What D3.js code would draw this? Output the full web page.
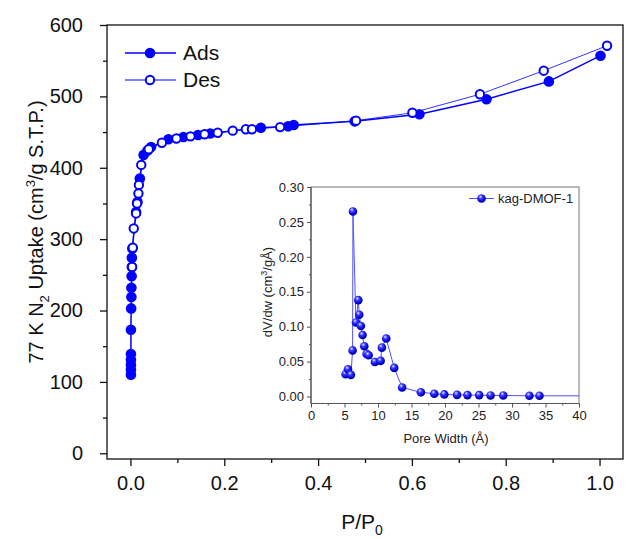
<!DOCTYPE html>
<html>
<head>
<meta charset="utf-8">
<script src="https://d3js.org/d3.v7.min.js"></script>
<style>
  body { margin: 0; background: #fff; }
  text { font-family: Arial, "Liberation Sans", sans-serif; }
</style>
</head>
<body>
<div id="chart"></div>
<script>
// isotherm, adsorption branch (P/P0, uptake cm3/g)
var adsP = [0.001, 0.001, 0.001, 0.001, 0.001, 0.001, 0.0015, 0.002, 0.002, 0.0025, 0.003, 0.003, 0.004,
            0.012, 0.015, 0.020, 0.028, 0.036, 0.044, 0.081, 0.113, 0.144, 0.170, 0.278, 0.336, 0.348,
            0.478, 0.616, 0.759, 0.892, 1.002];
var adsV = [110, 117, 124, 131, 139, 173, 203, 219, 232, 248, 261, 274, 287,
            338, 352, 385, 418, 424, 429, 440, 443, 446, 448, 456, 458, 460,
            465, 475, 496, 521, 557];
// desorption branch
var desP = [0.0035, 0.005, 0.007, 0.012, 0.014, 0.017, 0.018, 0.023, 0.039, 0.067, 0.098, 0.128, 0.158,
            0.186, 0.218, 0.246, 0.259, 0.319, 0.481, 0.601, 0.745, 0.881, 1.016];
var desV = [261, 288, 315, 336, 350, 364, 376, 404, 426, 435, 441, 444, 447,
            449, 452, 454, 454, 457, 466, 477, 503, 536, 571];

// inset pore size distribution
var poreW = [5.17, 5.52, 5.96, 6.21, 6.26, 6.71, 7.06, 7.2, 7.45, 7.7, 7.95, 8.3, 8.6, 9.54, 10.39, 10.58,
             11.23, 12.42, 13.6, 16.4, 18.4, 19.9, 21.8, 23.35, 25.1, 26.8, 28.7, 32.6, 34.1];
var poreDV = [0.032, 0.039, 0.031, 0.066, 0.265, 0.106, 0.138, 0.117, 0.101, 0.088, 0.072, 0.061, 0.059,
              0.0495, 0.051, 0.070, 0.083, 0.041, 0.013, 0.006, 0.004, 0.003, 0.0024, 0.002, 0.002,
              0.0015, 0.0015, 0.001, 0.001];
var poreTailW = [34.1, 42];   // line continues past the axis end
var poreTailDV = [0.001, 0.001];

var xTicks = [0, 0.2, 0.4, 0.6, 0.8, 1.0];
var yTicks = [0, 100, 200, 300, 400, 500, 600];
var inXTicks = [0, 5, 10, 15, 20, 25, 30, 35, 40];
var inYTicks = [0, 0.05, 0.10, 0.15, 0.20, 0.25, 0.30];

var width = 643, height = 539;
var blue = "#0000ff";

var svg = d3.select("#chart").append("svg")
    .attr("width", width)
    .attr("height", height);

var x = d3.scaleLinear().domain([-0.05, 1.05]).range([107, 623]);
var y = d3.scaleLinear().domain([-8, 600]).range([459, 25]);

// frame
svg.append("rect")
    .attr("x", 107).attr("y", 25)
    .attr("width", 516).attr("height", 434)
    .attr("fill", "none").attr("stroke", "#111").attr("stroke-width", 1.3);

// axes
var xAxis = svg.append("g").attr("transform", "translate(0,459)")
    .call(d3.axisBottom(x).tickValues(xTicks).tickSize(7).tickPadding(10).tickFormat(d3.format(".1f")));
svg.append("g").attr("transform", "translate(0,459)")
    .call(d3.axisBottom(x).tickValues(d3.range(0.1, 1.0, 0.2)).tickSize(4).tickFormat(""));
var yAxis = svg.append("g").attr("transform", "translate(107,0)")
    .call(d3.axisLeft(y).tickValues(yTicks).tickSize(7).tickPadding(17));
svg.append("g").attr("transform", "translate(107,0)")
    .call(d3.axisLeft(y).tickValues(d3.range(50, 600, 100)).tickSize(4).tickFormat(""));

svg.selectAll(".domain").remove();
svg.selectAll(".tick line").attr("stroke", "#111").attr("stroke-width", 1.3);
xAxis.selectAll("text").attr("font-size", 20).attr("fill", "#111")
    .attr("font-family", "Arial, 'Liberation Sans', sans-serif");
yAxis.selectAll("text").attr("font-size", 20).attr("fill", "#111")
    .attr("font-family", "Arial, 'Liberation Sans', sans-serif");

// axis titles
var xt = svg.append("text").attr("x", 362).attr("y", 529).attr("text-anchor", "middle")
    .attr("font-size", 21).attr("fill", "#111");
xt.append("tspan").text("P/P");
xt.append("tspan").attr("font-size", 14).attr("dy", 6).text("0");

var yt = svg.append("text").attr("transform", "translate(43,232) rotate(-90)")
    .attr("text-anchor", "middle").attr("font-size", 20).attr("fill", "#111");
yt.append("tspan").text("77 K N");
yt.append("tspan").attr("font-size", 13).attr("dy", 6).text("2");
yt.append("tspan").attr("dy", -6).text(" Uptake (cm");
yt.append("tspan").attr("font-size", 13).attr("dy", -8).text("3");
yt.append("tspan").attr("dy", 8).text("/g S.T.P.)");

// isotherm lines
var ads = adsP.map(function(p, i) { return [p, adsV[i]]; });
var des = desP.map(function(p, i) { return [p, desV[i]]; });
var line = d3.line().x(function(d) { return x(d[0]); }).y(function(d) { return y(d[1]); });

svg.append("path").datum(ads).attr("d", line)
    .attr("fill", "none").attr("stroke", blue).attr("stroke-width", 1.5);
svg.append("path").datum(des).attr("d", line)
    .attr("fill", "none").attr("stroke", blue).attr("stroke-width", 1).attr("opacity", 0.8);

svg.selectAll(".ads").data(ads).enter().append("circle")
    .attr("class", "ads")
    .attr("cx", function(d) { return x(d[0]); })
    .attr("cy", function(d) { return y(d[1]); })
    .attr("r", 5.3).attr("fill", blue);
svg.selectAll(".des").data(des).enter().append("circle")
    .attr("class", "des")
    .attr("cx", function(d) { return x(d[0]); })
    .attr("cy", function(d) { return y(d[1]); })
    .attr("r", 4.2).attr("fill", "#fff").attr("stroke", blue).attr("stroke-width", 2);

// legend
var leg = svg.append("g");
leg.append("line").attr("x1", 125).attr("x2", 176).attr("y1", 53).attr("y2", 53)
    .attr("stroke", blue).attr("stroke-width", 1.5);
leg.append("circle").attr("cx", 150).attr("cy", 53).attr("r", 5.3).attr("fill", blue);
leg.append("text").attr("x", 183).attr("y", 60).attr("font-size", 21).attr("fill", "#111").text("Ads");
leg.append("line").attr("x1", 125).attr("x2", 176).attr("y1", 80).attr("y2", 80)
    .attr("stroke", blue).attr("stroke-width", 1);
leg.append("circle").attr("cx", 150).attr("cy", 80).attr("r", 4.2)
    .attr("fill", "#fff").attr("stroke", blue).attr("stroke-width", 2);
leg.append("text").attr("x", 183).attr("y", 87).attr("font-size", 21).attr("fill", "#111").text("Des");

// ---- inset ----
var ix = d3.scaleLinear().domain([0, 40]).range([311, 579]);
var iy = d3.scaleLinear().domain([-0.01, 0.30]).range([403.5, 187]);
var inset = svg.append("g");

var defs = svg.append("defs");
var grad = defs.append("radialGradient").attr("id", "ball")
    .attr("cx", "40%").attr("cy", "35%").attr("r", "65%").attr("fx", "38%").attr("fy", "30%");
grad.append("stop").attr("offset", "0%").attr("stop-color", "#e8e8ff");
grad.append("stop").attr("offset", "35%").attr("stop-color", "#3a3aff");
grad.append("stop").attr("offset", "80%").attr("stop-color", "#0000d8");
grad.append("stop").attr("offset", "100%").attr("stop-color", "#00008a");
defs.append("clipPath").attr("id", "insetClip").append("rect")
    .attr("x", 311).attr("y", 187).attr("width", 268).attr("height", 216.5);

inset.append("rect").attr("x", 311).attr("y", 187).attr("width", 268).attr("height", 216.5)
    .attr("fill", "#fff").attr("stroke", "#777").attr("stroke-width", 1);

var ixAxis = inset.append("g").attr("transform", "translate(0,403.5)")
    .call(d3.axisBottom(ix).tickValues(inXTicks).tickSize(4).tickPadding(3));
inset.append("g").attr("transform", "translate(0,403.5)")
    .call(d3.axisBottom(ix).tickValues(d3.range(2.5, 40, 5)).tickSize(2).tickFormat(""));
var iyAxis = inset.append("g").attr("transform", "translate(311,0)")
    .call(d3.axisLeft(iy).tickValues(inYTicks).tickSize(4).tickPadding(3).tickFormat(d3.format(".2f")));
inset.append("g").attr("transform", "translate(311,0)")
    .call(d3.axisLeft(iy).tickValues(d3.range(0.025, 0.3, 0.05)).tickSize(2).tickFormat(""));
inset.selectAll(".domain").remove();
inset.selectAll(".tick line").attr("stroke", "#555").attr("stroke-width", 1);
inset.selectAll(".tick text").attr("font-size", 13).attr("fill", "#222")
    .attr("font-family", "Arial, 'Liberation Sans', sans-serif");
inset.append("line").attr("x1", 311).attr("x2", 579).attr("y1", 403.5).attr("y2", 403.5)
    .attr("stroke", "#555").attr("stroke-width", 1.2);
inset.append("line").attr("x1", 311).attr("x2", 311).attr("y1", 187).attr("y2", 403.5)
    .attr("stroke", "#555").attr("stroke-width", 1.2);

inset.append("text").attr("x", 446).attr("y", 443).attr("text-anchor", "middle")
    .attr("font-size", 13).attr("fill", "#222").text("Pore Width (Å)");
var iyt = inset.append("text").attr("transform", "translate(272,292) rotate(-90)")
    .attr("text-anchor", "middle").attr("font-size", 13).attr("fill", "#222");
iyt.append("tspan").text("dV/dw (cm");
iyt.append("tspan").attr("font-size", 9).attr("dy", -5).text("3");
iyt.append("tspan").attr("dy", 5).text("/gÅ)");

var psd = poreW.map(function(w, i) { return [w, poreDV[i]]; });
var tail = poreTailW.map(function(w, i) { return [w, poreTailDV[i]]; });
var iline = d3.line().x(function(d) { return ix(d[0]); }).y(function(d) { return iy(d[1]); });
var plotArea = inset.append("g").attr("clip-path", "url(#insetClip)");
plotArea.append("path").datum(psd).attr("d", iline)
    .attr("fill", "none").attr("stroke", "#5050ff").attr("stroke-width", 1);
plotArea.append("path").datum(tail).attr("d", iline)
    .attr("fill", "none").attr("stroke", "#5050ff").attr("stroke-width", 1);
plotArea.selectAll(".ball").data(psd).enter().append("circle")
    .attr("class", "ball")
    .attr("cx", function(d) { return ix(d[0]); })
    .attr("cy", function(d) { return iy(d[1]); })
    .attr("r", 4.3).attr("fill", "url(#ball)");

// inset legend
inset.append("line").attr("x1", 469).attr("x2", 494).attr("y1", 198.5).attr("y2", 198.5)
    .attr("stroke", "#5050ff").attr("stroke-width", 1);
inset.append("circle").attr("cx", 481.5).attr("cy", 198.5).attr("r", 4.3).attr("fill", "url(#ball)");
inset.append("text").attr("x", 498).attr("y", 203).attr("font-size", 13).attr("fill", "#222").text("kag-DMOF-1");
</script>
</body>
</html>
